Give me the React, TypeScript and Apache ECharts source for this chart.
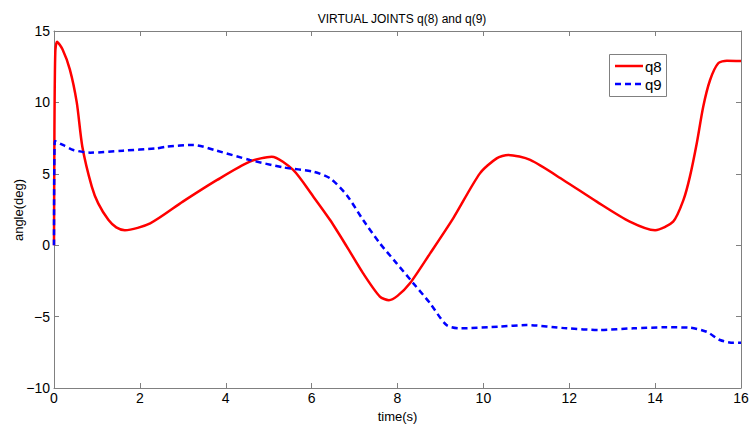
import React, { useEffect, useRef } from "react";
import * as echarts from "echarts";

const q8Time = [0, 0.01, 0.03, 0.07, 0.2, 0.37, 0.53, 0.66, 0.88, 1.03, 1.27, 1.45, 1.65, 2.24, 3.0, 3.8, 4.56, 5.07, 5.57, 6.04, 6.43, 6.82, 7.2, 7.59, 7.8, 8.0, 8.29, 8.76, 9.3, 9.92, 10.31, 10.58, 11.09, 11.86, 12.64, 13.41, 14.0, 14.42, 14.66, 14.81, 14.97, 15.12, 15.28, 15.47, 15.67, 16];
const q8Values = [0, 8, 13.5, 14.25, 13.7, 12.3, 10.0, 6.9, 4.1, 2.93, 1.76, 1.25, 1.05, 1.53, 3.05, 4.57, 5.85, 6.2, 5.27, 3.4, 1.76, -0.1, -1.97, -3.6, -3.85, -3.55, -2.67, -0.57, 1.9, 5.03, 6.08, 6.32, 5.97, 4.57, 3.05, 1.65, 1.05, 1.65, 3.17, 4.8, 7.14, 9.7, 11.57, 12.74, 12.92, 12.9];

const q9Time = [0, 0.02, 0.22, 0.45, 0.84, 1.61, 2.39, 2.62, 3.25, 3.79, 4.56, 5.34, 6.04, 6.43, 6.82, 7.2, 7.59, 7.98, 8.37, 8.76, 9.14, 9.46, 10.39, 11.0, 11.94, 12.72, 13.49, 14.27, 14.81, 15.2, 15.51, 15.82, 16];
const q9Values = [0, 7.3, 7.0, 6.67, 6.48, 6.62, 6.78, 6.9, 7.02, 6.62, 5.97, 5.45, 5.15, 4.68, 3.5, 1.76, 0.13, -1.27, -2.67, -4.07, -5.59, -5.82, -5.7, -5.59, -5.82, -5.94, -5.82, -5.75, -5.78, -6.06, -6.64, -6.83, -6.83];

const seriesNames = ["q8", "q9"];
const seriesColors = ["#ff0000", "#0000ff"];

const FONT = "'Liberation Sans', Arial, Helvetica, sans-serif";
const AXIS_COLOR = "#808080";

export default function App() {
  const ref = useRef<HTMLDivElement>(null);
  useEffect(() => {
    if (!ref.current) return;
    const chart = echarts.init(ref.current, null, { renderer: "svg" });
    const fmt = (v: number) => String(v).replace("-", "\u2212");
    const axisCommon = {
      axisLine: { show: true, onZero: false, lineStyle: { color: AXIS_COLOR, width: 1 } },
      axisTick: { show: true, inside: true, length: 5, lineStyle: { color: AXIS_COLOR } },
      splitLine: { show: false },
    };
    const LX = 609, LY = 54;
    chart.setOption({
      animation: false,
      backgroundColor: "#ffffff",
      title: {
        text: "VIRTUAL JOINTS q(8) and q(9)",
        left: 397,
        textAlign: "center",
        top: 8,
        textStyle: { fontFamily: FONT, fontSize: 12, fontWeight: "normal", color: "#000" },
      },
      graphic: [
        {
          type: "text",
          x: 18,
          y: 210,
          rotation: Math.PI / 2,
          style: { text: "angle(deg)", fontFamily: FONT, fontSize: 13, fill: "#000", align: "center", verticalAlign: "middle" },
        },
        {
          type: "rect",
          shape: { x: LX + 0.5, y: LY + 0.5, width: 57, height: 42 },
          style: { fill: "#fff", stroke: AXIS_COLOR, lineWidth: 1 },
          z: 100,
        },
        {
          type: "line",
          shape: { x1: LX + 6, y1: LY + 12, x2: LX + 34, y2: LY + 12 },
          style: { stroke: seriesColors[0], lineWidth: 2.5 },
          z: 101,
        },
        {
          type: "line",
          shape: { x1: LX + 6, y1: LY + 30, x2: LX + 34, y2: LY + 30 },
          style: { stroke: seriesColors[1], lineWidth: 2.5, lineDash: [6, 4] },
          z: 101,
        },
        {
          type: "text",
          x: LX + 36,
          y: LY + 12,
          style: { text: seriesNames[0], fontFamily: FONT, fontSize: 15, fill: "#000", verticalAlign: "middle" },
          z: 101,
        },
        {
          type: "text",
          x: LX + 36,
          y: LY + 30,
          style: { text: seriesNames[1], fontFamily: FONT, fontSize: 15, fill: "#000", verticalAlign: "middle" },
          z: 101,
        },
      ],
      grid: { left: 54, right: 8, top: 31, bottom: 36, outerBoundsMode: "none", containLabel: false },
      xAxis: [
        {
          type: "value",
          min: 0,
          max: 16,
          interval: 2,
          position: "bottom",
          name: "time(s)",
          nameLocation: "middle",
          nameGap: 20,
          nameTextStyle: { fontFamily: FONT, fontSize: 13, color: "#000" },
          axisLabel: { fontFamily: FONT, fontSize: 14, color: "#000", margin: 3, formatter: fmt },
          ...axisCommon,
        },
        {
          type: "value",
          min: 0,
          max: 16,
          interval: 2,
          position: "top",
          axisLabel: { show: false },
          ...axisCommon,
        },
      ],
      yAxis: [
        {
          type: "value",
          min: -10,
          max: 15,
          interval: 5,
          position: "left",
          axisLabel: { fontFamily: FONT, fontSize: 14, color: "#000", margin: 4, formatter: fmt },
          ...axisCommon,
        },
        {
          type: "value",
          min: -10,
          max: 15,
          interval: 5,
          position: "right",
          axisLabel: { show: false },
          ...axisCommon,
        },
      ],
      series: [
        {
          name: seriesNames[0],
          type: "line",
          data: q8Time.map((t, i) => [t, q8Values[i]]),
          showSymbol: false,
          symbol: "none",
          smooth: 0.25,
          color: seriesColors[0],
          lineStyle: { color: seriesColors[0], width: 2.5 },
        },
        {
          name: seriesNames[1],
          type: "line",
          data: q9Time.map((t, i) => [t, q9Values[i]]),
          showSymbol: false,
          symbol: "none",
          smooth: 0.25,
          color: seriesColors[1],
          lineStyle: { color: seriesColors[1], width: 2.5, type: [6, 4] },
        },
      ],
    });
    return () => chart.dispose();
  }, []);
  return (
    <div
      ref={ref}
      style={{ position: "absolute", left: 0, top: 0, width: 749, height: 424, background: "#fff" }}
    />
  );
}
